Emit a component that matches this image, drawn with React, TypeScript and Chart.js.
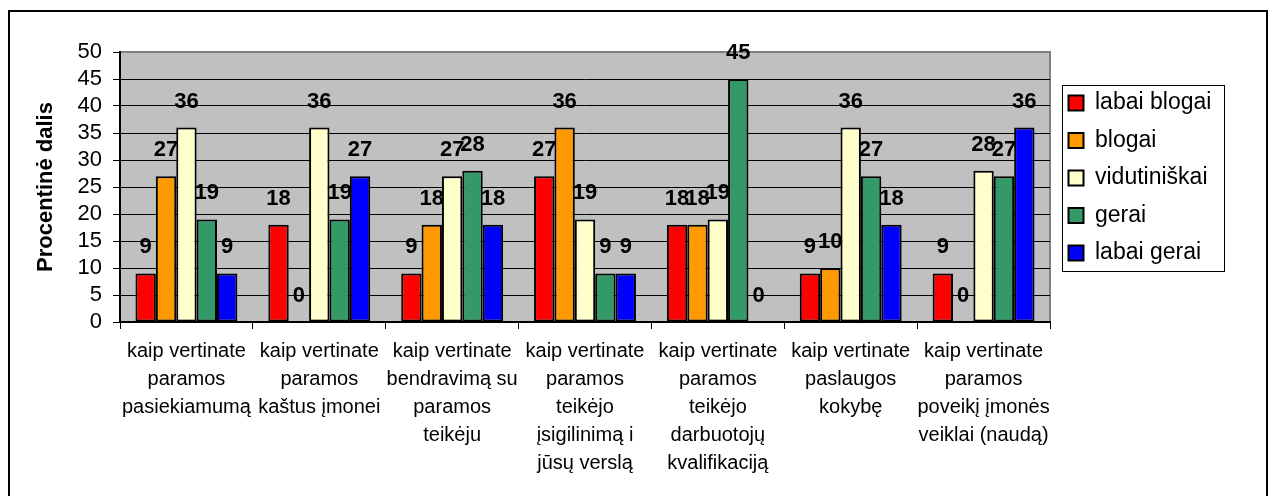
import React, { useEffect, useRef } from 'react';
import { Chart, registerables } from 'chart.js';

Chart.register(...registerables);

// ---- data ----
const categories: string[][] = [
  ['kaip vertinate', 'paramos', 'pasiekiamumą'],
  ['kaip vertinate', 'paramos', 'kaštus įmonei'],
  ['kaip vertinate', 'bendravimą su', 'paramos', 'teikėju'],
  ['kaip vertinate', 'paramos', 'teikėjo', 'įsigilinimą i', 'jūsų verslą'],
  ['kaip vertinate', 'paramos', 'teikėjo', 'darbuotojų', 'kvalifikaciją'],
  ['kaip vertinate', 'paslaugos', 'kokybę'],
  ['kaip vertinate', 'paramos', 'poveikį įmonės', 'veiklai (naudą)'],
];

const seriesNames = ['labai blogai', 'blogai', 'vidutiniškai', 'gerai', 'labai gerai'];

const labaiBlogai = [9, 18, 9, 27, 18, 9, 9];
const blogai = [27, 0, 18, 36, 18, 10, 0];
const vidutiniskai = [36, 36, 27, 19, 19, 36, 28];
const gerai = [19, 19, 28, 9, 45, 27, 27];
const labaiGerai = [9, 27, 18, 9, 0, 18, 36];

const seriesColors = ['#FF0000', '#FF9900', '#FFFFCC', '#339966', '#0000FF'];

const yMin = 0;
const yMax = 50;
const yStep = 5;
const yTitle = 'Procentinė dalis';

const FONT = '"Liberation Sans", Arial, Helvetica, sans-serif';

// ---- plugins ----
const plotBackground = {
  id: 'plotBackground',
  beforeDraw(chart: any) {
    const { ctx, chartArea: a } = chart;
    ctx.save();
    ctx.fillStyle = '#C0C0C0';
    ctx.fillRect(a.left, a.top, a.right - a.left, a.bottom - a.top);
    ctx.strokeStyle = '#808080';
    ctx.lineWidth = 2;
    ctx.strokeRect(a.left, a.top, a.right - a.left, a.bottom - a.top);
    ctx.restore();
  },
};

const LEGEND_X = 1044;
const LEGEND_CY = 166;

const legendPlacement = {
  id: 'legendPlacement',
  afterLayout(chart: any) {
    const lg = chart.legend;
    if (!lg) return;
    const w = lg.width;
    lg.left = LEGEND_X;
    lg.right = LEGEND_X + w;
    lg.top = LEGEND_CY - 133;
    lg.bottom = LEGEND_CY + 133;
    lg.height = 266;
  },
  afterDraw(chart: any) {
    const lg = chart.legend;
    if (!lg) return;
    const ctx = chart.ctx;
    ctx.save();
    ctx.strokeStyle = '#000';
    ctx.lineWidth = 1;
    ctx.strokeRect(lg.left + 8.5, LEGEND_CY - 92.5, 162, 186);
    ctx.restore();
  },
};

const dataLabels = {
  id: 'dataLabels',
  afterDatasetsDraw(chart: any) {
    const ctx = chart.ctx;
    ctx.save();
    ctx.font = 'bold 22px ' + FONT;
    ctx.fillStyle = '#000';
    ctx.textAlign = 'center';
    ctx.textBaseline = 'alphabetic';
    chart.data.datasets.forEach((ds: any, i: number) => {
      const meta = chart.getDatasetMeta(i);
      meta.data.forEach((el: any, j: number) => {
        ctx.fillText(String(ds.data[j]), el.x, el.y - 20);
      });
    });
    ctx.restore();
  },
};

export default function App() {
  const ref = useRef<HTMLCanvasElement>(null);

  useEffect(() => {
    const seriesData = [labaiBlogai, blogai, vidutiniskai, gerai, labaiGerai];
    const chart = new Chart(ref.current as HTMLCanvasElement, {
      type: 'bar',
      data: {
        labels: categories,
        datasets: seriesNames.map((name, i) => ({
          label: name,
          data: seriesData[i],
          backgroundColor: seriesColors[i],
          borderColor: '#000',
          borderWidth: 2,
          borderSkipped: false,
          categoryPercentage: 0.767,
          barPercentage: 1.0,
        })),
      },
      options: {
        responsive: false,
        animation: false,
        events: [],
        layout: { padding: { left: 0, top: 40, right: 56, bottom: 0 } },
        plugins: {
          tooltip: { enabled: false },
          title: { display: false },
          legend: {
            display: true,
            position: 'right',
            fullSize: false,
            maxWidth: 160,
            labels: {
              boxWidth: 15,
              boxHeight: 15,
              padding: 14.5,
              color: '#000',
              font: { family: FONT, size: 23 },
            },
          },
        },
        scales: {
          x: {
            offset: true,
            grid: {
              offset: true,
              drawOnChartArea: false,
              drawTicks: true,
              tickLength: 7,
              tickColor: '#000',
              tickWidth: 1,
            },
            border: { display: true, color: '#000', width: 2 },
            ticks: {
              color: '#000',
              autoSkip: false,
              maxRotation: 0,
              minRotation: 0,
              padding: 8,
              font: { family: FONT, size: 20, lineHeight: 1.4 },
            },
            afterFit(s: any) {
              s.height = 176;
            },
          },
          y: {
            min: yMin,
            max: yMax,
            ticks: {
              stepSize: yStep,
              autoSkip: false,
              color: '#000',
              padding: 11,
              font: { family: FONT, size: 22 },
            },
            grid: {
              color: (c: any) => (c.tick && c.tick.value === yMax ? '#808080' : '#000'),
              lineWidth: 1,
              tickColor: '#000',
              tickLength: 7,
            },
            border: { display: true, color: '#000', width: 2 },
            title: {
              display: true,
              text: yTitle,
              color: '#000',
              font: { family: FONT, size: 22, weight: 'bold' },
              padding: { top: 23, bottom: 0 },
            },
            afterFit(s: any) {
              s.width = 110;
            },
          },
        },
      },
      plugins: [plotBackground, legendPlacement, dataLabels],
    } as any);
    return () => chart.destroy();
  }, []);

  return (
    <>
      <style>{`html,body{overflow:hidden;}`}</style>
      <div
        style={{
          position: 'absolute',
          left: 8,
          top: 10,
          width: 1260,
          height: 500,
          border: '2px solid #000',
          boxSizing: 'border-box',
          background: '#fff',
        }}
      >
        <canvas ref={ref} width={1256} height={486} style={{ display: 'block', width: 1256, height: 486 }} />
      </div>
    </>
  );
}
